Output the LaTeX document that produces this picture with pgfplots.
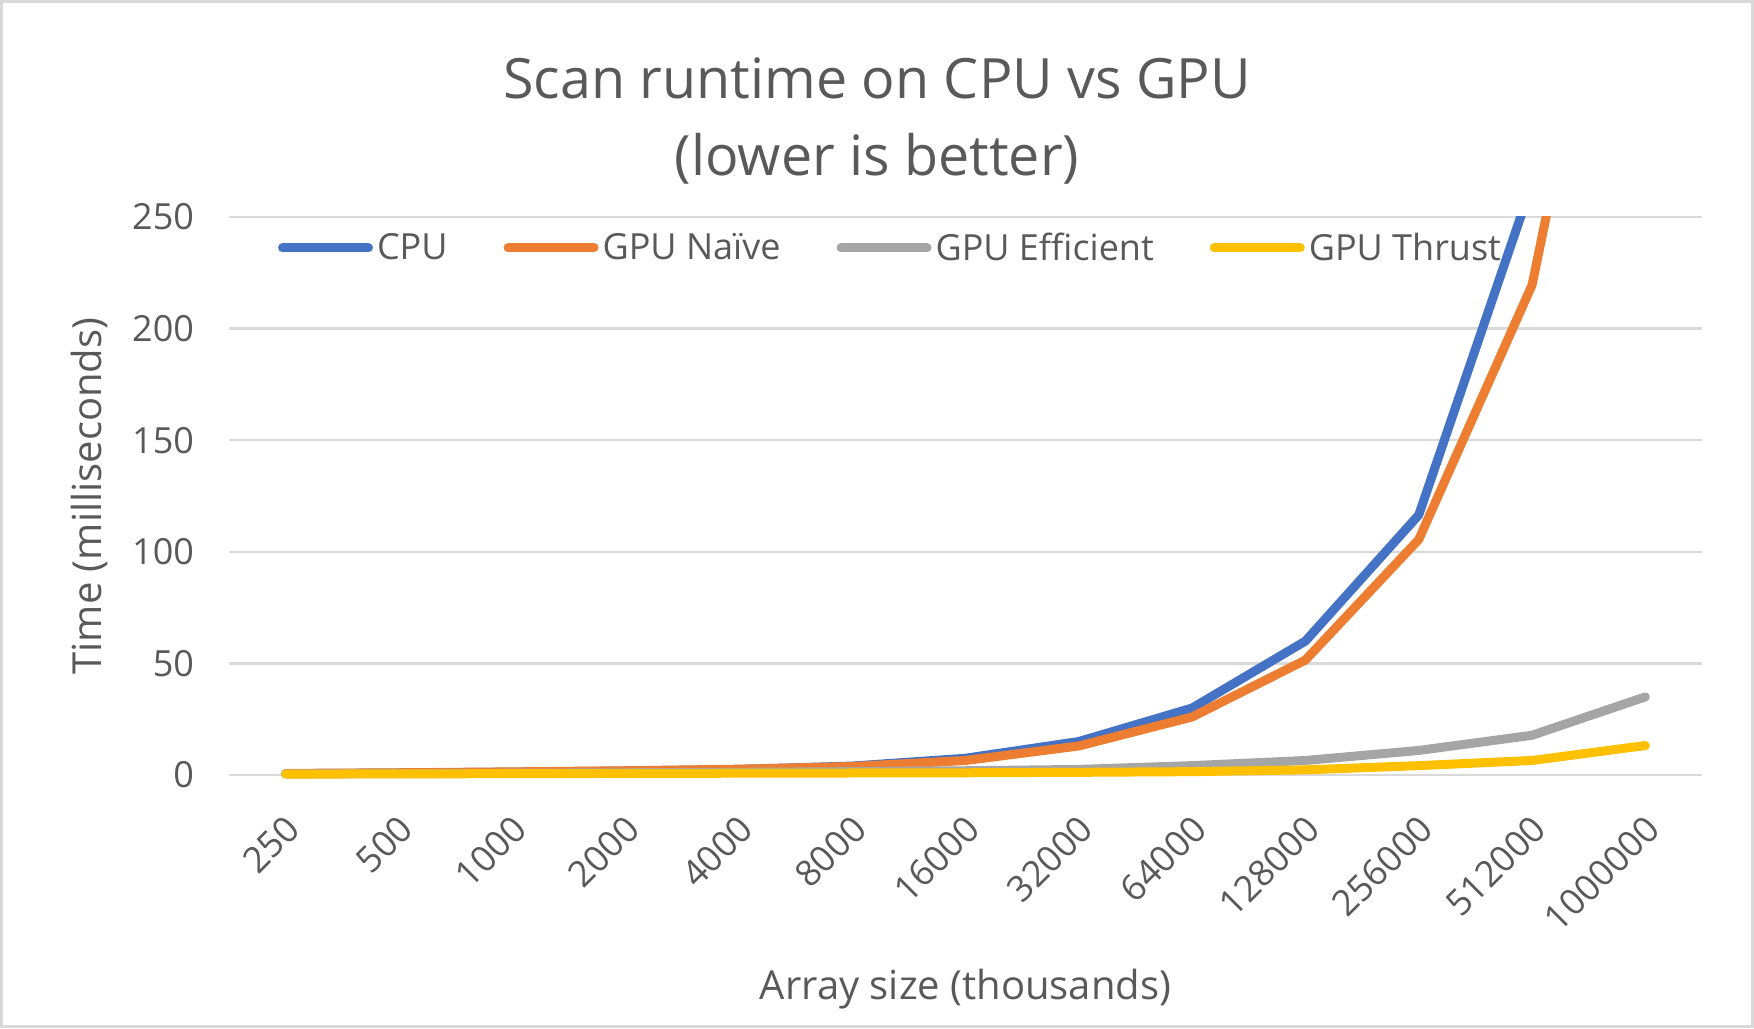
\documentclass[border=0pt]{standalone}
\usepackage{fontspec}
\setmainfont{Open Sans}
\usepackage{pgfplots}
\pgfplotsset{compat=1.18}

\definecolor{txt}{HTML}{595959}
\definecolor{gridc}{HTML}{D9D9D9}
\definecolor{cpu}{HTML}{4472C4}
\definecolor{naive}{HTML}{ED7D31}
\definecolor{eff}{HTML}{A5A5A5}
\definecolor{thrust}{HTML}{FFC000}

% runtimes in ms, x = category index (250 ... 1000000 thousand elements)
\pgfplotstableread{
idx  cpu    naive  eff   thrust
0    0.6    0.7    0.5   0.4
1    0.9    1.0    0.6   0.5
2    1.3    1.4    0.8   0.6
3    1.8    1.9    1.0   0.7
4    2.5    2.6    1.2   0.8
5    4.0    3.8    1.5   0.9
6    7.5    6.5    1.9   1.0
7    15     13     2.5   1.2
8    30     26     4.2   1.5
9    60     51.5   6.5   2.3
10   116.5  105.5  11    4.2
11   265    219.5  17.8  6.5
12   530    466    35    13.2
}\scandata

\begin{document}
\begin{tikzpicture}
\useasboundingbox (0,0) rectangle (877pt,514pt);
\draw[gridc, line width=1.5pt] (0.75pt,0.75pt) rectangle (876.25pt,513.25pt);

\node[anchor=base, text=txt, font=\fontsize{27.8}{34}\selectfont] at (438.5pt,464.75pt) {Scan runtime on CPU vs GPU};
\node[anchor=base, text=txt, font=\fontsize{27.8}{34}\selectfont] at (438.5pt,426.2pt) {(lower is better)};

\begin{axis}[
  at={(114.5pt,115.34pt)}, anchor=south west,
  scale only axis, width=736.5pt, height=290.16pt,
  xmin=-0.5, xmax=12.5, ymin=-10, ymax=250,
  xtick={0,...,12},
  xticklabels={250,500,1000,2000,4000,8000,16000,32000,64000,128000,256000,512000,1000000},
  ytick={0,50,...,250},
  axis line style={draw=none},
  major tick length=0pt,
  ymajorgrids, grid style={gridc, line width=1.25pt},
  /pgf/number format/assume math mode=true,
  tick label style={text=txt, font=\fontsize{18}{22}\selectfont},
  xticklabel style={rotate=45, anchor=east, yshift=-11.5pt, xshift=-2.8pt},
  yticklabel style={xshift=-14pt},
  legend columns=4,
  legend cell align=left,
  legend style={draw=none, fill=none, inner sep=0pt,
    at={(rel axis cs:0.033,0.9466)}, anchor=west,
    font=\fontsize{18}{22}\selectfont, text=txt,
    /tikz/every even column/.append style={column sep=26pt}},
  legend image code/.code={\draw[#1, line cap=round] (0pt,0pt) -- (43pt,0pt);},
  every axis plot/.append style={line width=4.5pt, line join=round, line cap=round},
]
\addplot[cpu] table[x=idx, y=cpu] {\scandata};
\addlegendentry{CPU}
\addplot[naive] table[x=idx, y=naive] {\scandata};
\addlegendentry{GPU Naïve}
\addplot[eff] table[x=idx, y=eff] {\scandata};
\addlegendentry{GPU Efficient}
\addplot[thrust] table[x=idx, y=thrust] {\scandata};
\addlegendentry{GPU Thrust}
\end{axis}

\node[rotate=90, text=txt, font=\fontsize{20}{24}\selectfont] at (44.75pt,266pt) {Time (milliseconds)};
\node[anchor=base, text=txt, font=\fontsize{20}{24}\selectfont] at (482.75pt,14.5pt) {Array size (thousands)};
\end{tikzpicture}
\end{document}
